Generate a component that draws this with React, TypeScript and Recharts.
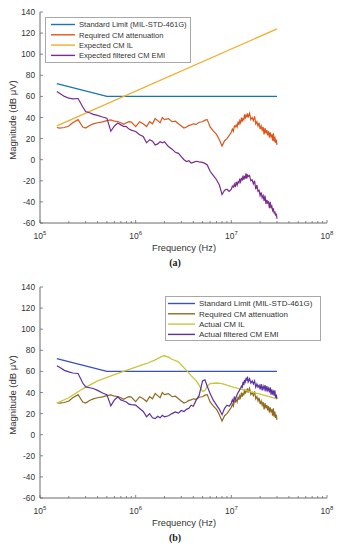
import { LineChart, Line, XAxis, YAxis } from 'recharts';

// frequency grid of the measured curves (MHz)
const FREQ_MHZ = [
  0.15, 0.16, 0.18, 0.2, 0.22, 0.25, 0.28, 0.3, 0.33, 0.36,
  0.4, 0.45, 0.5, 0.55, 0.6, 0.65, 0.7, 0.75, 0.8, 0.85,
  0.9, 1.0, 1.1, 1.2, 1.3, 1.4, 1.5, 1.6, 1.7, 1.8,
  1.9, 2.0, 2.2, 2.4, 2.6, 2.8, 3.0, 3.2, 3.4, 3.6,
  3.8, 4.0, 4.3, 4.6, 5.0, 5.3, 5.6, 6.0, 6.5, 7.0,
  7.5, 8.0, 8.5, 9.0, 9.5,
  10, 10.25, 10.5, 10.75, 11, 11.25, 11.5, 11.75, 12, 12.25,
  12.5, 12.75, 13, 13.25, 13.5, 13.75, 14, 14.25, 14.5, 14.75, 15,
  15.5, 16, 16.5, 17, 17.5, 18, 18.5, 19, 19.5, 20,
  20.5, 21, 21.5, 22, 22.5, 23, 23.5, 24, 24.5, 25,
  25.5, 26, 26.5, 27, 27.5, 28, 28.5, 29, 29.5, 30,
];

const REQ_ATTEN = [
  30.5, 30, 30.5, 32, 35, 38, 31, 30, 32.5, 34,
  35, 35.8, 37, 37.8, 36.5, 36.2, 35, 33.5, 35, 36,
  35.6, 31.4, 36, 34, 31.4, 36, 34, 39, 37, 35,
  40, 38, 39, 36, 36.5, 34, 32, 30, 31, 32.5,
  33, 34, 33.5, 35.5, 36, 37.5, 38, 31, 27, 24,
  19, 13, 18, 20, 23,
  26, 29, 27, 32, 31, 33, 31, 36, 33, 37,
  35, 40, 36, 39, 38, 43, 39, 42, 41, 44, 40,
  44, 38, 40, 37, 41, 34, 36, 32, 35, 29,
  32, 28, 31, 24, 30, 25, 28, 23, 27, 21,
  26, 22, 24, 18, 25, 17, 22, 16, 19, 14,
];

const EXP_FILTERED = [
  64.6, 63, 60, 58.3, 57.7, 58, 50, 45.6, 44.5, 43,
  42, 40.5, 39.4, 27, 32, 34.7, 33, 31.5, 31.4, 29,
  28, 26.7, 23.6, 22, 16, 19, 17.5, 14, 15, 17,
  16, 17, 12.5, 10, 7, 6, 3, 0, -1.7, -1,
  -3.2, -2.5, -1.5, -2, -2.5, -3.5, -5, -11, -15, -19,
  -24, -33, -29, -28, -30,
  -28, -25, -26, -23, -26, -21, -24, -21, -22, -18,
  -21, -18, -19, -15, -19, -16, -17, -13, -18, -14, -16,
  -15, -20, -19, -23, -20, -28, -24, -30, -29, -34,
  -31, -36, -34, -39, -34, -42, -38, -41, -40, -46,
  -40, -46, -44, -48, -46, -51, -49, -53, -51, -56,
];

const ACT_FILTERED = [
  65.3, 64, 61, 59.6, 58.5, 58, 49, 45.3, 44.5, 43.8,
  42, 39.5, 38, 27.3, 33, 35.8, 33, 32, 31, 29,
  28.5, 28, 24.8, 22, 17, 20, 16, 15.2, 17.5, 16,
  18.4, 17, 18, 20, 21.5, 20.5, 23, 22, 24, 25,
  28, 27, 33, 37, 51, 52, 46, 39, 32.5, 28,
  24, 19, 25, 28, 27,
  30, 33, 31, 36, 33, 36, 38, 40, 41, 43,
  44, 46, 45, 50, 47, 52, 50, 53, 52, 55, 50,
  53, 49, 51, 48, 51, 45, 48, 45, 47, 43,
  48, 42, 46, 43, 47, 41, 46, 42, 44, 40,
  45, 38, 43, 39, 41, 37, 42, 35, 38, 34,
];

const LIMIT_MHZ = [0.15, 0.5, 30];
const LIMIT_DB = [72, 60, 60];

const EXP_IL_MHZ = [0.15, 30];
const EXP_IL_DB = [32, 124];

const ACT_IL_MHZ = [0.15, 0.2, 0.28, 0.4, 0.6, 0.8, 1.0, 1.3, 1.6, 1.9, 2.0, 2.2, 2.4, 2.8, 3.0, 3.4, 3.8, 4.3, 4.6, 5.0, 5.3, 5.6, 6.0, 7.0, 8.0, 10, 14, 19, 26, 30];
const ACT_IL_DB = [30, 35, 43.5, 51, 57, 61, 64, 67.5, 71, 74.5, 74.8, 73.5, 71.5, 69, 66, 61, 56, 51, 47, 41, 42, 46, 48.5, 49, 48.5, 45.5, 42, 39, 35.5, 34];

const Y_TICKS = [-60, -40, -20, 0, 20, 40, 60, 80, 100, 120, 140];
const DECADES = [1e5, 1e6, 1e7, 1e8];
const X_TICKS: number[] = [];
DECADES.forEach((d, i) => {
  X_TICKS.push(d);
  if (i < DECADES.length - 1) for (let k = 2; k <= 9; k++) X_TICKS.push(d * k);
});

const FONT = '"Liberation Sans", Arial, sans-serif';
const AXIS = '#6b6b6b';
const TEXT = '#333';

const toPoints = (mhz: number[], db: number[]) => mhz.map((m, i) => ({ f: m * 1e6, v: db[i] }));

const rowsA = FREQ_MHZ.map((m, i) => ({ f: m * 1e6, req: REQ_ATTEN[i], emi: EXP_FILTERED[i] }));
const rowsB = FREQ_MHZ.map((m, i) => ({ f: m * 1e6, req: REQ_ATTEN[i], emi: ACT_FILTERED[i] }));

const XTick = (props: any) => {
  const { x, y, payload } = props;
  const v = payload.value;
  const exp = Math.round(Math.log10(v));
  const major = Math.abs(v - Math.pow(10, exp)) < v * 1e-6;
  const ay = y - 4;
  return (
    <g>
      <line x1={x} x2={x} y1={ay} y2={ay - (major ? 3 : 2)} stroke={AXIS} strokeWidth={0.8} />
      {major && (
        <text x={x} y={ay + 16} textAnchor="middle" fontSize={8.5} fill={TEXT} fontFamily={FONT}>
          10<tspan dy={-4} fontSize={6}>{exp}</tspan>
        </text>
      )}
    </g>
  );
};

const YTick = (props: any) => {
  const { x, y, payload } = props;
  return (
    <g>
      <line x1={x + 4} x2={x + 7} y1={y} y2={y} stroke={AXIS} strokeWidth={0.8} />
      <text x={x - 1} y={y + 3} textAnchor="end" fontSize={8.3} fill={TEXT} fontFamily={FONT}>
        {payload.value}
      </text>
    </g>
  );
};

interface Item { name: string; color: string }

function LegendBox({ left, top, width, height, lineStart, textX, fontSize, items }: {
  left: number; top: number; width: number; height: number; lineStart: number; textX: number; fontSize: number; items: Item[];
}) {
  return (
    <svg style={{ position: 'absolute', left, top }} width={width} height={height}>
      <rect x={0.5} y={0.5} width={width - 1} height={height - 1} fill="#fff" stroke="#a8a8a8" />
      {items.map((it, i) => {
        const cy = 7.5 + i * 10.3;
        return (
          <g key={it.name}>
            <line x1={lineStart} x2={30} y1={cy} y2={cy} stroke={it.color} strokeWidth={1.4} />
            <text x={textX} y={cy + 2.8} fontSize={fontSize} fill={TEXT} fontFamily={FONT}>{it.name}</text>
          </g>
        );
      })}
    </svg>
  );
}

function Panel({ top, rows, ilData, colors, names, tag, legend }: any) {
  return (
    <div style={{ position: 'absolute', left: 0, top, width: 341, height: 275 }}>
      <LineChart width={341} height={275} data={rows} margin={{ top: 12, right: 14, bottom: 22, left: 0 }}>
        <XAxis
          dataKey="f"
          type="number"
          scale="log"
          domain={[1e5, 1e8]}
          ticks={X_TICKS}
          interval={0}
          allowDataOverflow
          height={30}
          tickSize={0}
          tickMargin={4}
          tickLine={false}
          axisLine={{ stroke: AXIS }}
          tick={<XTick />}
        />
        <YAxis
          type="number"
          domain={[-60, 140]}
          ticks={Y_TICKS}
          interval={0}
          width={40}
          tickSize={0}
          tickMargin={4}
          tickLine={false}
          axisLine={{ stroke: AXIS }}
          tick={<YTick />}
        />
        <Line data={toPoints(LIMIT_MHZ, LIMIT_DB)} dataKey="v" stroke={colors[0]} strokeWidth={1.3} dot={false} isAnimationActive={false} />
        <Line dataKey="req" stroke={colors[1]} strokeWidth={1.2} dot={false} isAnimationActive={false} />
        <Line data={ilData} dataKey="v" stroke={colors[2]} strokeWidth={1.3} dot={false} isAnimationActive={false} />
        <Line dataKey="emi" stroke={colors[3]} strokeWidth={1.2} dot={false} isAnimationActive={false} />
      </LineChart>
      <LegendBox {...legend} items={names.map((n: string, i: number) => ({ name: n, color: colors[i] }))} />
      <div style={{ position: 'absolute', left: 12, top: 120, transform: 'translate(-50%, -50%) rotate(-90deg)', whiteSpace: 'nowrap', fontFamily: FONT, fontSize: 9.5, color: TEXT }}>
        Magnitude (dB μV)
      </div>
      <div style={{ position: 'absolute', left: 184, top: 248, transform: 'translate(-50%, -50%)', whiteSpace: 'nowrap', fontFamily: FONT, fontSize: 9.3, color: TEXT }}>
        Frequency (Hz)
      </div>
      <div style={{ position: 'absolute', left: 175, top: 262, transform: 'translate(-50%, -50%)', whiteSpace: 'nowrap', fontFamily: '"Liberation Serif", "Times New Roman", serif', fontWeight: 'bold', fontSize: 10, color: '#222' }}>
        {tag}
      </div>
    </div>
  );
}

const NAMES_A = ['Standard Limit (MIL-STD-461G)', 'Required CM attenuation', 'Expected CM IL', 'Expected filtered CM EMI'];
const NAMES_B = ['Standard Limit (MIL-STD-461G)', 'Required CM attenuation', 'Actual CM IL', 'Actual filtered CM EMI'];
const COLORS_A = ['#1477b2', '#dc561c', '#f0ae2c', '#7a2b8c'];
const COLORS_B = ['#3a4fc0', '#8f6a1e', '#c8c63a', '#5c2fa2'];

export default function App() {
  return (
    <div style={{ position: 'absolute', left: 0, top: 0, width: 341, height: 550, background: '#fff' }}>
      <Panel
        top={0}
        rows={rowsA}
        ilData={toPoints(EXP_IL_MHZ, EXP_IL_DB)}
        colors={COLORS_A}
        names={NAMES_A}
        tag="(a)"
        legend={{ left: 45, top: 17, width: 146, height: 46, lineStart: 6, textX: 34, fontSize: 7.6 }}
      />
      <Panel
        top={275}
        rows={rowsB}
        ilData={toPoints(ACT_IL_MHZ, ACT_IL_DB)}
        colors={COLORS_B}
        names={NAMES_B}
        tag="(b)"
        legend={{ left: 165, top: 21, width: 156, height: 45, lineStart: 3, textX: 34, fontSize: 8 }}
      />
    </div>
  );
}
